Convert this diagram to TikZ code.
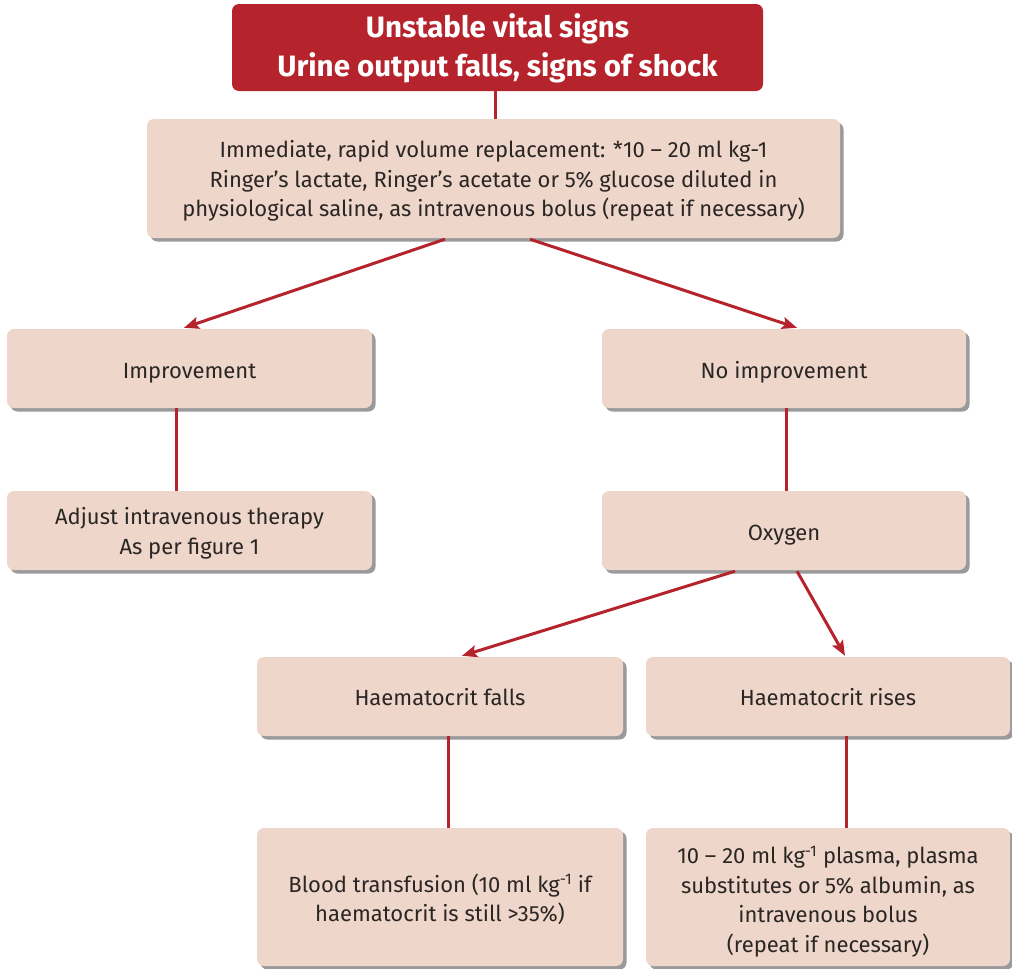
\documentclass[tikz,border=0pt]{standalone}
\usepackage{fontspec}
\setmainfont{Fira Sans}
\usetikzlibrary{shadows,arrows.meta,calc}
\definecolor{bred}{HTML}{B5232D}
\definecolor{bfill}{HTML}{EFD6CA}
\definecolor{btext}{HTML}{2A2624}
\definecolor{bshadow}{HTML}{9A9A9C}
\newcommand{\lowtxt}[2][4pt]{\raisebox{-#1}[\height][\depth]{\begin{tabular}{@{}c@{}}#2\end{tabular}}}
\begin{document}
\begin{tikzpicture}[x=1pt,y=-1pt,
  box/.style={fill=bfill, rounded corners=7pt, text=btext,
    font=\fontsize{22}{29.5}\selectfont, inner sep=0pt,
    drop shadow={shadow xshift=3.5pt, shadow yshift=-3.5pt, fill=bshadow, opacity=1}},
  topbox/.style={fill=bred, rounded corners=7pt, text=white,
    font=\bfseries\fontsize{29.5}{39}\selectfont, inner sep=0pt},
  conn/.style={draw=bred, line width=3pt},
  arr/.style={conn, -{Stealth[length=15pt,width=12pt,inset=3pt]}}]
\useasboundingbox (0,0) rectangle (1012,969);

\node[topbox, minimum width=531pt, minimum height=87pt] (top) at (497.5,47.5)
  {\lowtxt[1.5pt]{Unstable vital signs\\Urine output falls, signs of shock}};
\node[box, minimum width=693pt, minimum height=119pt] (b1) at (493.5,178.5)
  {\lowtxt[3pt]{Immediate, rapid volume replacement: *10 – 20 ml kg-1\\
   Ringer’s lactate, Ringer’s acetate or 5\% glucose diluted in\\
   physiological saline, as intravenous bolus (repeat if necessary)}};
\node[box, minimum width=365pt, minimum height=79pt] (imp) at (189.5,368.5) {\lowtxt{Improvement}};
\node[box, minimum width=364pt, minimum height=79pt] (noimp) at (784,368.5) {\lowtxt{No improvement}};
\node[box, minimum width=365pt, minimum height=79pt] (adj) at (189.5,530.5)
  {\lowtxt[3pt]{Adjust intravenous therapy\\As per figure 1}};
\node[box, minimum width=364pt, minimum height=79pt] (ox) at (784,530.5) {\lowtxt{Oxygen}};
\node[box, minimum width=366pt, minimum height=79pt] (hf) at (440,696.5) {\lowtxt[3pt]{Haematocrit falls}};
\node[box, minimum width=364pt, minimum height=79pt] (hr) at (828,696.5) {\lowtxt[3pt]{Haematocrit rises}};
\node[box, minimum width=366pt, minimum height=138pt] (bt) at (440,897)
  {\lowtxt{Blood transfusion (10 ml kg\textsuperscript{-1} if\\haematocrit is still >35\%)}};
\node[box, minimum width=364pt, minimum height=138pt] (pl) at (828,897)
  {\lowtxt[5pt]{10 – 20 ml kg\textsuperscript{-1} plasma, plasma\\substitutes or 5\% albumin, as\\intravenous bolus\\(repeat if necessary)}};

\draw[conn] ($(top.south)+(-2.5,0)$) -- ($(b1.north)+(1.5,0)$);
\draw[arr] ($(b1.south)+(-48.5,1)$) -- ($(imp.north)+(-5.5,-1)$);
\draw[arr] ($(b1.south)+(36.5,1)$) -- ($(noimp.north)+(13,-1)$);
\draw[conn] ($(imp.south)+(-13.5,0)$) -- ($(adj.north)+(-13.5,0)$);
\draw[conn] ($(noimp.south)+(2,0)$) -- ($(ox.north)+(2,0)$);
\draw[arr] ($(ox.south)+(-49,1)$) -- ($(hf.north)+(22,-1)$);
\draw[arr] ($(ox.south)+(13,1)$) -- ($(hr.north)+(17,-1)$);
\draw[conn] ($(hf.south)+(8,0)$) -- ($(bt.north)+(8,0)$);
\draw[conn] ($(hr.south)+(18,0)$) -- ($(pl.north)+(18,0)$);
\end{tikzpicture}
\end{document}
